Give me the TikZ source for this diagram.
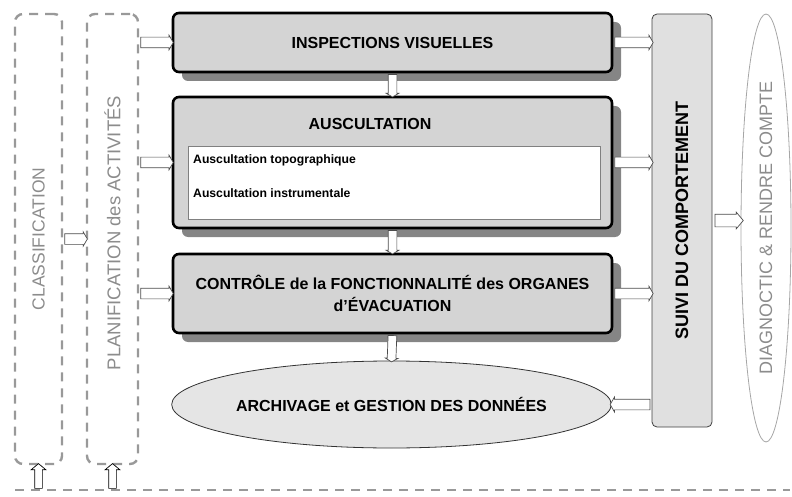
\documentclass[tikz,border=0pt]{standalone}
\usepackage{fontspec}
\setmainfont{Liberation Sans}
\usetikzlibrary{arrows.meta,shapes.geometric,shapes.arrows,shadows,calc}
\newcommand\blockarr[4]{% #1 name, #2 style, #3 from, #4 to
  \path let \p1=(#3), \p2=(#4), \n1={veclen(\x2-\x1,\y2-\y1)} in
    (\p1) -- (\p2) node[midway, sloped, allow upside down, #2, minimum height=\n1] (#1) {};}
\begin{document}
\begin{tikzpicture}[x=1pt,y=-1pt,
  mainbox/.style={draw=black, line width=2.6pt, rounded corners=6pt, fill=black!17,
    drop shadow={shadow xshift=9pt, shadow yshift=-9pt, fill=black!48, opacity=1},
    inner sep=0pt, font=\bfseries\fontsize{16}{22}\selectfont, align=center},
  boldtext/.style={font=\bfseries\fontsize{16}{22}\selectfont, inner sep=0pt},
  smalltext/.style={font=\bfseries\fontsize{12.2}{14}\selectfont, inner sep=0pt},
  dashbox/.style={draw=black!40, line width=2.4pt, dash pattern=on 9pt off 7pt,
    rounded corners=8pt, inner sep=0pt, text=black!45, font=\fontsize{17.5}{20}\selectfont},
  dashline/.style={draw=black!40, line width=2.4pt, dash pattern=on 9pt off 7pt},
  arrbase/.style={single arrow, draw=black!70, fill=white, line width=0.7pt, inner xsep=0pt, outer sep=0pt, minimum width=0pt},
  harr/.style={arrbase, inner ysep=5pt, single arrow head extend=2pt, single arrow tip angle=120},
  varr/.style={arrbase, inner ysep=4pt, single arrow head extend=2pt, single arrow tip angle=120},
  darr/.style={arrbase, inner ysep=6pt, single arrow head extend=2pt, single arrow tip angle=100},
  uarr/.style={arrbase, draw=black, inner ysep=3.5pt, single arrow head extend=3.5pt, single arrow tip angle=100},
]
\useasboundingbox (0,0) rectangle (792,497);

% left dashed frames
\node[dashbox, minimum width=47pt, minimum height=450pt] (clas) at (38.5,239) {\rotatebox{90}{CLASSIFICATION}};
\node[dashbox, minimum width=51pt, minimum height=450pt, font=\fontsize{18.5}{20}\selectfont] (plan) at (112.5,239) {\rotatebox{90}{\hspace*{12pt}PLANIFICATION des ACTIVITÉS}};

% main boxes
\node[mainbox, minimum width=439pt, minimum height=59pt] (insp) at (392.5,42.5) {INSPECTIONS VISUELLES};
\node[mainbox, minimum width=439pt, minimum height=131pt] (ausc) at (392.5,162.5) {};
\node[boldtext] (ausct) at (370,124) {AUSCULTATION};
\node[draw=black!50, line width=0.6pt, fill=white, minimum width=412pt, minimum height=73pt, inner sep=0pt] (ausin) at (394,182.5) {};
\node[smalltext, anchor=west] (topo) at (193,160) {Auscultation topographique};
\node[smalltext, anchor=west] (instr) at (193,193) {Auscultation instrumentale};
\node[mainbox, minimum width=439pt, minimum height=79pt] (ctrl) at (392.5,293.5) {CONTRÔLE de la FONCTIONNALITÉ des ORGANES\\d’ÉVACUATION};

\node[draw=black!80, line width=0.8pt, fill=black!10, ellipse, minimum width=437pt, minimum height=87pt, inner sep=0pt, boldtext] (arch) at (391.5,404.5) {ARCHIVAGE et GESTION DES DONNÉES};

% right column
\node[draw=black!75, line width=0.8pt, fill=black!12, rounded corners=5pt, minimum width=60pt, minimum height=413pt, inner sep=0pt, font=\bfseries\fontsize{18}{20}\selectfont] (suivi) at (682,220.5) {\rotatebox{90}{SUIVI DU COMPORTEMENT}};
\node[draw=black!35, line width=0.8pt, ellipse, minimum width=50pt, minimum height=428pt, inner sep=0pt, text=black!45, font=\fontsize{18}{20}\selectfont] (diag) at (766,228) {\rotatebox{90}{DIAGNOCTIC \& RENDRE COMPTE}};

% bottom dashed line
\coordinate (bl) at (15,490);
\coordinate (br) at (790,490);
\draw[dashline] (bl) -- (br);

% arrows
\blockarr{a1}{harr}{clas.east}{plan.west}
\blockarr{a2}{harr}{plan.east |- insp.west}{insp.west}
\blockarr{a3}{harr}{plan.east |- ausc.west}{ausc.west}
\blockarr{a4}{harr}{plan.east |- ctrl.west}{ctrl.west}
\blockarr{a5}{harr}{insp.east}{suivi.west |- insp.east}
\blockarr{a6}{harr}{ausc.east}{suivi.west |- ausc.east}
\blockarr{a7}{harr}{ctrl.east}{suivi.west |- ctrl.east}
\blockarr{a8}{harr}{suivi.west |- arch.east}{arch.east}
\blockarr{a9}{darr}{suivi.east}{suivi.east -| diag.west}
\blockarr{a10}{varr}{insp.south}{ausc.north}
\blockarr{a11}{varr}{ausc.south}{ctrl.north}
\blockarr{a12}{varr}{ctrl.south}{arch.north}
\blockarr{a13}{uarr}{clas.south |- bl}{clas.south}
\blockarr{a14}{uarr}{plan.south |- bl}{plan.south}
\end{tikzpicture}
\end{document}
